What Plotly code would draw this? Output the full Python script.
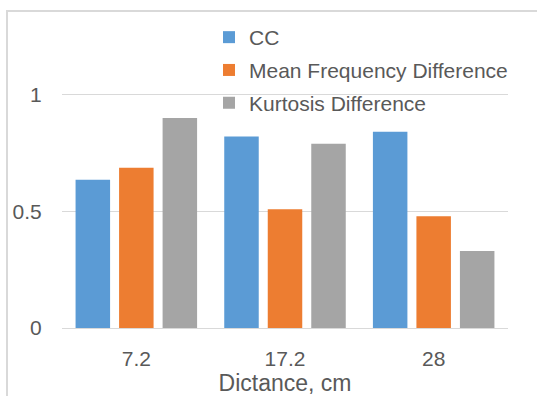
import plotly.graph_objects as go

categories = ["7.2", "17.2", "28"]
cc = [0.635, 0.821, 0.841]
mfd = [0.687, 0.509, 0.479]
kd = [0.900, 0.790, 0.330]
series_names = ["CC", "Mean Frequency Difference", "Kurtosis Difference"]
colors = ["#5B9BD5", "#ED7D31", "#A5A5A5"]

W, H = 537, 396
L, R, T, B = 62, 29, 48, 68
pw, ph = W - L - R, H - T - B

fig = go.Figure()
for i, (name, vals, col) in enumerate(zip(series_names, [cc, mfd, kd], colors)):
    fig.add_trace(go.Bar(x=categories, y=vals, name=name, legendgroup=f"g{i}",
                         marker=dict(color=col, line=dict(width=0))))

font = "Liberation Sans"
txt = "#595959"

fig.update_layout(
    width=W, height=H,
    margin=dict(l=L, r=R, t=T, b=B, autoexpand=False),
    paper_bgcolor="white", plot_bgcolor="white",
    barmode="group", bargap=0.122, bargroupgap=0.207,
    font=dict(family=font, color=txt, size=21),
    showlegend=True,
    legend=dict(
        x=(229 - L - 20) / pw, y=(328 - 17) / ph, xanchor="left", yanchor="top",
        bgcolor="rgba(0,0,0,0)", font=dict(family=font, size=21, color=txt),
        traceorder="grouped", tracegroupgap=2.5, itemwidth=30,
    ),
    xaxis=dict(
        showgrid=False, showline=False, zeroline=False,
        ticks="outside", ticklen=12, tickcolor="rgba(0,0,0,0)",
        tickfont=dict(family=font, size=21, color=txt),
        title=dict(text="Dictance, cm", font=dict(family=font, size=23, color=txt), standoff=2),
        automargin=False,
    ),
    yaxis=dict(
        range=[0, 1.2], dtick=0.5, tick0=0,
        showgrid=True, gridcolor="#D9D9D9", gridwidth=1.3,
        zeroline=True, zerolinecolor="#D9D9D9", zerolinewidth=1.3,
        showline=False,
        ticks="outside", ticklen=15, tickcolor="rgba(0,0,0,0)",
        tickfont=dict(family=font, size=21, color=txt),
        automargin=False,
    ),
)

# chart-area border (light gray), extends beyond the visible crop
fig.add_shape(
    type="rect", xref="paper", yref="paper",
    x0=(7 - L) / pw, x1=(W + 20 - L) / pw,
    y0=-(H + 20 - (T + ph)) / ph, y1=(T + ph - 11) / ph,
    line=dict(color="#D9D9D9", width=2), fillcolor="rgba(0,0,0,0)", layer="below",
)

fig.write_html("out.html")
